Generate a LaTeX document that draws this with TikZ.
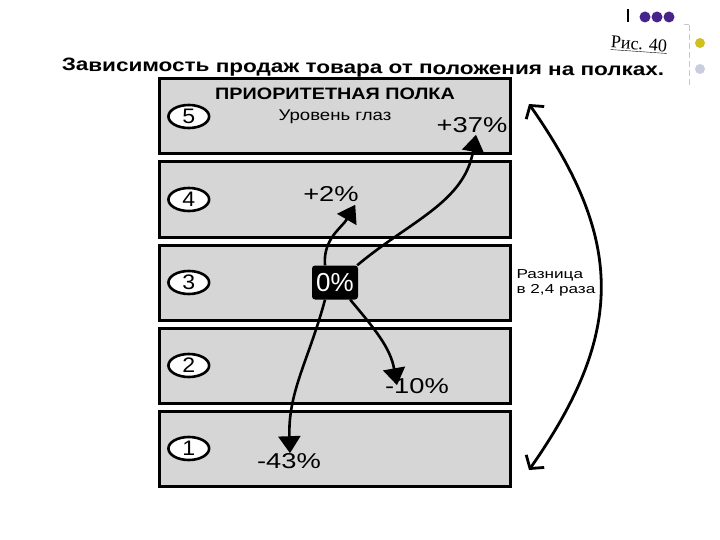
\documentclass[tikz,border=0pt]{standalone}
\usepackage{fontspec}
\setmainfont{Liberation Sans}
\newfontfamily\figfont{Liberation Serif}
\usetikzlibrary{arrows.meta,positioning,shapes.geometric}
\definecolor{shelfcol}{RGB}{214,214,214}
\definecolor{dotpurple}{RGB}{70,36,140}
\definecolor{dotyellow}{RGB}{206,192,30}
\definecolor{dotgrey}{RGB}{200,205,224}
\definecolor{railcol}{RGB}{200,200,200}

\begin{document}
\begin{tikzpicture}[x=1pt, y=-1pt,
   node distance=5pt,
   shelf/.style={draw, line width=3pt, fill=shelfcol, minimum width=351pt,
                 minimum height=75pt, inner sep=0pt},
   num/.style={draw, ellipse, line width=2.6pt, fill=white, inner sep=0pt,
               minimum width=37pt, minimum height=23pt, xscale=1.1,
               font=\fontsize{21}{21}\selectfont},
   pct/.style={inner sep=1pt, xscale=1.27, font=\fontsize{21.5}{21.5}\selectfont},
   lbl/.style={inner sep=1pt, xscale=1.2, font=\fontsize{15.5}{15}\selectfont},
   zero/.style={fill=black, text=white, rounded corners=3pt, inner sep=0pt,
                minimum width=46pt, minimum height=34pt, font=\fontsize{26}{26}\selectfont},
   move/.style={-{Triangle[length=17pt,width=22pt]}, line width=2.6pt},
   span/.style={{Straight Barb[length=9pt,width=22pt]}-{Straight Barb[length=9pt,width=22pt]},
                line width=2.8pt},
]
\useasboundingbox (0,0) rectangle (720,540);
% corner marks
\draw[line width=1.4pt] (628,9) -- (628,22);
\foreach \i in {0,1,2}
  \fill[dotpurple] (645+12*\i,17) circle (5.5);
\draw[railcol, line width=1pt] (684,25) -- (689,25);
\draw[railcol, line width=1pt, dash pattern=on 6pt off 3pt] (689,25) -- (689,88);
\fill[dotyellow] (700,43) circle (5);
\fill[dotgrey] (700,69) circle (5);
\node[rotate=-4, inner sep=0pt, font=\figfont\fontsize{18}{18}\selectfont] (fig)
  at (639,45) {\underline{Рис. 40}};
% title
\node[inner sep=0pt, rotate=-0.5, xscale=1.25, font=\bfseries\fontsize{18}{18}\selectfont] (title)
  at (363,69) {Зависимость продаж товара от положения на полках.};
% shelves
\node[shelf] (s5) at (335,116.5) {};
\node[shelf, below=of s5] (s4) {};
\node[shelf, below=of s4] (s3) {};
\node[shelf, below=of s3] (s2) {};
\node[shelf, below=of s2] (s1) {};
\foreach \k in {1,...,5}
  \node[num, right=9pt of s\k.west] (n\k) {\k};
% shelf texts
\node[lbl, font=\bfseries\fontsize{16.5}{16.5}\selectfont, below=9pt of s5.north] (prio)
  {ПРИОРИТЕТНАЯ ПОЛКА};
\node[lbl, below=8pt of prio] (eye) {Уровень глаз};
\node[pct] (p37) at (472,125) {+37\%};
\node[pct] (p2) at (331,194) {+2\%};
\node[zero] (zero) at (s3) {0\%};
\node[pct] (m10) at (417,386) {-10\%};
\node[pct] (m43) at (289,461) {-43\%};
\node[lbl, font=\fontsize{13}{15}\selectfont, xscale=1.1, align=left, anchor=west,
      right=3pt of s3.east] (diff)
  {Разница\\в 2,4 раза};
% arrows
\draw[move] ([xshift=-1pt]zero.north east) to[out=40, in=-100] ([xshift=4pt,yshift=-1pt]p37.south);
\draw[move] ([xshift=-10pt]zero.north) to[out=95, in=-120] ([xshift=-5pt,yshift=-2pt]p2.south east);
\draw[move] ([xshift=-8pt]zero.south east) to[out=-50, in=100] ([xshift=-20pt,yshift=-8pt]m10.north);
\draw[move] ([xshift=-10pt]zero.south) to[out=-105, in=92] ([xshift=1pt,yshift=-1pt]m43.north);
\coordinate (hi) at (529,104);
\coordinate (lo) at (529,470);
\draw[span] (hi) to[out=-55, in=55, looseness=1.17] (lo);
\end{tikzpicture}
\end{document}
